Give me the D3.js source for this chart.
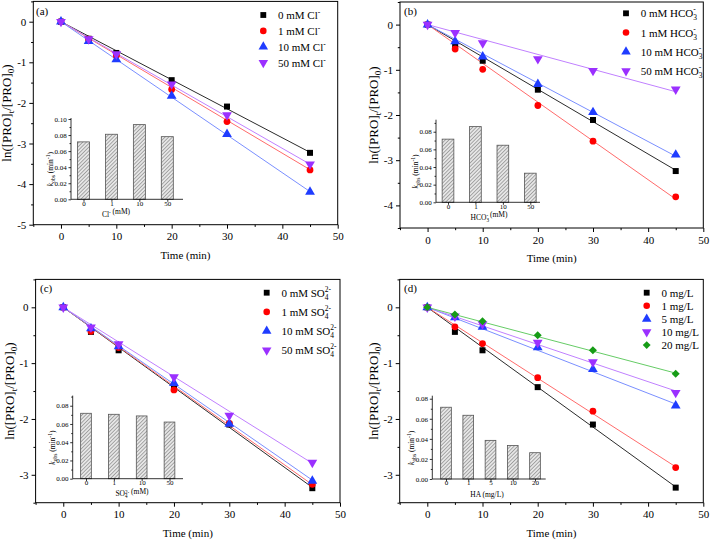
<!DOCTYPE html>
<html><head><meta charset="utf-8">
<script src="https://cdn.jsdelivr.net/npm/d3@7"></script>
<style>
body{margin:0;background:#fff}
svg{display:block}
text{font-family:"Liberation Serif","Times New Roman",serif;fill:#000}
</style>
</head><body>
<svg id="c" width="710" height="541"></svg>
<script>
// ---------------- DATA ----------------
const times = [0, 5, 10, 20, 30, 45];
const xTicks = [0, 10, 20, 30, 40, 50];

// (a) chloride
const clConc = ["0", "1", "10", "50"];
const cl_0  = [0, -0.42, -0.77, -1.44, -2.09, -3.23];
const cl_1  = [0, -0.43, -0.84, -1.67, -2.46, -3.65];
const cl_10 = [0, -0.48, -0.93, -1.83, -2.77, -4.19];
const cl_50 = [0, -0.43, -0.80, -1.54, -2.30, -3.51];
const clK   = [0.0715, 0.081, 0.093, 0.078];

// (b) bicarbonate
const hcoConc = ["0", "1", "10", "50"];
const hco_0  = [0, -0.46, -0.80, -1.44, -2.11, -3.24];
const hco_1  = [0, -0.54, -0.99, -1.79, -2.58, -3.81];
const hco_10 = [0, -0.37, -0.71, -1.32, -1.94, -2.88];
const hco_50 = [0, -0.18, -0.41, -0.76, -1.02, -1.43];
const hcoK   = [0.0716, 0.0858, 0.0647, 0.0330];

// (c) sulfate
const so4Conc = ["0", "1", "10", "50"];
const so4_0  = [0, -0.44, -0.77, -1.42, -2.10, -3.24];
const so4_1  = [0, -0.43, -0.72, -1.48, -2.08, -3.17];
const so4_10 = [0, -0.38, -0.70, -1.36, -2.09, -3.11];
const so4_50 = [0, -0.36, -0.66, -1.25, -1.94, -2.78];
const so4K   = [0.0717, 0.0706, 0.0688, 0.0621];

// (d) humic acid
const haConc = ["0", "1", "5", "10", "20"];
const ha_0  = [0, -0.44, -0.77, -1.43, -2.10, -3.23];
const ha_1  = [0, -0.35, -0.65, -1.26, -1.86, -2.87];
const ha_5  = [0, -0.18, -0.35, -0.72, -1.11, -1.76];
const ha_10 = [0, -0.16, -0.30, -0.63, -0.98, -1.53];
const ha_20 = [0, -0.13, -0.25, -0.50, -0.77, -1.19];
const haK   = [0.0715, 0.0635, 0.0385, 0.0333, 0.0262];

// ---------------- STYLE / LAYOUT ----------------
const markerColors = ["#000000", "#ff0000", "#1f3cff", "#9b30ff", "#169c16"];
const lineColors   = ["#2b2b2b", "#ff6b6b", "#7a8fff", "#c080ff", "#66cc66"];
const FONT_TICK = 11, FONT_LEG = 11, FONT_YLAB = 13, FONT_IN = 7, FONT_INLAB = 7.5;

const panels = [
  {tag: "(a)", series: [cl_0, cl_1, cl_10, cl_50], k: clK, conc: clConc, ion: "Cl", inXlab: "Cl",
   box: [33.3, 337.7, 1.4, 224.7], yDom: [-5, 0.5], leg: [263.3, 15, 15.9], tagPos: [36, 15],
   inset: {x: [71, 183], c: [83.5, 167.3], bw: 12, y: [199.3, 119], ymax: 0.10, xlab: 116}},
  {tag: "(b)", series: [hco_0, hco_1, hco_10, hco_50], k: hcoK, conc: hcoConc, ion: "HCO3", inXlab: "HCO3",
   box: [400, 703.3, 2, 228], yDom: [-4.5, 0.5], leg: [626, 13.3, 19.2], tagPos: [404, 15],
   inset: {x: [436, 540], c: [448, 530.3], bw: 11.7, y: [202.3, 120.7], ymax: 0.0925, xlab: 489}},
  {tag: "(c)", series: [so4_0, so4_1, so4_10, so4_50], k: so4K, conc: so4Conc, ion: "SO4", inXlab: "SO4",
   box: [35.6, 340, 279.4, 502.7], yDom: [-3.5, 0.5], leg: [266.7, 292.7, 19.2], tagPos: [40, 292],
   inset: {x: [72.7, 183], c: [86, 169.5], bw: 10.7, y: [478.7, 396.6], ymax: 0.09, xlab: 132}},
  {tag: "(d)", series: [ha_0, ha_1, ha_5, ha_10, ha_20], k: haK, conc: haConc, ion: "HA", inXlab: "HA",
   box: [399.7, 703.3, 279.4, 502.7], yDom: [-3.5, 0.5], leg: [646.7, 292.7, 13.1], tagPos: [404, 292],
   inset: {x: [432.3, 545.7], c: [446, 535], bw: 10.7, y: [479, 396.7], ymax: 0.082, xlab: 487}}
];

const svg = d3.select("#c");
const defs = svg.append("defs");
const pat = defs.append("pattern").attr("id", "hatch").attr("patternUnits", "userSpaceOnUse")
  .attr("width", 2.6).attr("height", 2.6).attr("patternTransform", "rotate(45)");
pat.append("rect").attr("width", 2.6).attr("height", 2.6).attr("fill", "#e6e6e6");
pat.append("line").attr("x1", 0).attr("y1", 0).attr("x2", 0).attr("y2", 2.6)
  .attr("stroke", "#666").attr("stroke-width", 1);

function symbolPath(i, size) {
  const types = [d3.symbolSquare, d3.symbolCircle, d3.symbolTriangle, d3.symbolTriangle, d3.symbolSquare];
  const sizes = [size, size, size * 1.15, size * 1.15, size * 0.9];
  return d3.symbol().type(types[i]).size(sizes[i])();
}
function symbolRot(i) { return i === 3 ? 180 : (i === 4 ? 45 : 0); }

// append ion text (with sub/superscripts) to a text selection
function appendIon(t, ion, fs, raise) {
  const s = fs * 0.68;
  const r = raise || 0.72;
  if (ion === "Cl") {
    t.append("tspan").text("Cl");
    t.append("tspan").attr("dy", -fs * 0.38).style("font-size", s + "px").text("-");
    t.append("tspan").attr("dy", fs * 0.38).text("");
  } else if (ion === "HCO3") {
    t.append("tspan").text("HCO");
    t.append("tspan").attr("dy", fs * 0.28).style("font-size", s + "px").text("3");
    t.append("tspan").attr("dx", -s * 0.5).attr("dy", -fs * r).style("font-size", s + "px").text("-");
    t.append("tspan").attr("dy", fs * (r - 0.28)).text("");
  } else if (ion === "SO4") {
    t.append("tspan").text("SO");
    t.append("tspan").attr("dy", fs * 0.28).style("font-size", s + "px").text("4");
    t.append("tspan").attr("dx", -s * 0.5).attr("dy", -fs * r).style("font-size", s + "px").text("2-");
    t.append("tspan").attr("dy", fs * (r - 0.28)).text("");
  }
}

panels.forEach(p => {
  const [bx0, bx1, by0, by1] = p.box;
  const g = svg.append("g");
  const x = d3.scaleLinear().domain([-5, 50]).range([bx0, bx1]);
  const y = d3.scaleLinear().domain(p.yDom).range([by1, by0]);

  // axes
  const yMaj = d3.range(Math.ceil(p.yDom[0]), 0.001, 1);
  const yMin = d3.range(Math.ceil(p.yDom[0] * 2) / 2, p.yDom[1] + 0.001, 0.5).filter(v => !Number.isInteger(v));
  const xMin = [-5, 5, 15, 25, 35, 45];

  const gx = g.append("g").attr("transform", `translate(0,${by1})`)
    .call(d3.axisBottom(x).tickValues(xTicks).tickSize(4).tickPadding(4).tickFormat(d => String(d)));
  gx.selectAll("text").style("font-size", FONT_TICK + "px");
  g.append("g").attr("transform", `translate(0,${by1})`)
    .call(d3.axisBottom(x).tickValues(xMin).tickSize(2.2).tickFormat(""));
  const gy = g.append("g").attr("transform", `translate(${bx0},0)`)
    .call(d3.axisLeft(y).tickValues(yMaj).tickSize(4).tickPadding(3).tickFormat(d => String(d)));
  gy.selectAll("text").style("font-size", FONT_TICK + "px");
  g.append("g").attr("transform", `translate(${bx0},0)`)
    .call(d3.axisLeft(y).tickValues(yMin).tickSize(2.2).tickFormat(""));
  g.selectAll(".domain").remove();
  g.selectAll(".tick line").attr("stroke", "#000");

  g.append("rect").attr("x", bx0).attr("y", by0).attr("width", bx1 - bx0).attr("height", by1 - by0)
    .attr("fill", "none").attr("stroke", "#000").attr("stroke-width", 1);

  // axis titles
  g.append("text").attr("x", (bx0 + bx1) / 2).attr("y", by1 + 34).attr("text-anchor", "middle")
    .style("font-size", "11px").text("Time (min)");
  const yl = g.append("text").attr("text-anchor", "middle")
    .attr("transform", `translate(${bx0 - 22},${(by0 + by1) / 2}) rotate(-90)`)
    .style("font-size", FONT_YLAB + "px");
  yl.append("tspan").text("ln([PRO]");
  yl.append("tspan").attr("dy", 3).style("font-size", "9px").text("t");
  yl.append("tspan").attr("dy", -3).text("/[PRO]");
  yl.append("tspan").attr("dy", 3).style("font-size", "9px").text("0");
  yl.append("tspan").attr("dy", -3).text(")");

  g.append("text").attr("x", p.tagPos[0]).attr("y", p.tagPos[1]).style("font-size", "11px").text(p.tag);

  // fit lines
  const line = d3.line().x(d => x(d[0])).y(d => y(d[1]));
  p.series.forEach((s, i) => {
    const tEnd = times[times.length - 1];
    g.append("path").datum([[0, 0], [tEnd, -p.k[i] * tEnd]]).attr("d", line)
      .attr("fill", "none").attr("stroke", lineColors[i]).attr("stroke-width", 1);
  });
  // markers
  p.series.forEach((s, i) => {
    g.append("g").selectAll("path").data(s).join("path")
      .attr("d", symbolPath(i, 36))
      .attr("transform", (d, j) => `translate(${x(times[j])},${y(d)}) rotate(${symbolRot(i)})`)
      .attr("fill", markerColors[i]);
  });

  // legend
  const [lx, ly, ldy] = p.leg;
  p.conc.forEach((c, i) => {
    const yy = ly + i * ldy;
    g.append("path").attr("d", symbolPath(i, 34))
      .attr("transform", `translate(${lx},${yy}) rotate(${symbolRot(i)})`).attr("fill", markerColors[i]);
    const t = g.append("text").attr("x", lx + 14.7).attr("y", yy + 4).style("font-size", FONT_LEG + "px");
    if (p.ion === "HA") t.append("tspan").text(c + " mg/L");
    else { t.append("tspan").text(c + " mM "); appendIon(t, p.ion, FONT_LEG); }
  });

  // inset bar chart
  const ins = p.inset;
  const ig = g.append("g");
  const xi = d3.scalePoint().domain(p.conc).range(ins.c);
  const yi = d3.scaleLinear().domain([0, ins.ymax]).range(ins.y);
  ig.selectAll("rect").data(p.k).join("rect")
    .attr("x", (d, i) => xi(p.conc[i]) - ins.bw / 2).attr("width", ins.bw)
    .attr("y", d => yi(d)).attr("height", d => yi(0) - yi(d))
    .attr("fill", "url(#hatch)").attr("stroke", "#555").attr("stroke-width", 0.8);

  const iyMaj = d3.range(0, ins.ymax + 1e-9, 0.02);
  const iyMin = d3.range(0.01, ins.ymax + 1e-9, 0.02);
  const iax = ig.append("g").attr("transform", `translate(${ins.x[0]},0)`)
    .call(d3.axisLeft(yi).tickValues(iyMaj).tickSize(2.5).tickPadding(1.8).tickFormat(d3.format(".2f")));
  iax.selectAll("text").style("font-size", FONT_IN + "px");
  ig.append("g").attr("transform", `translate(${ins.x[0]},0)`)
    .call(d3.axisLeft(yi).tickValues(iyMin).tickSize(1.5).tickFormat(""));
  const ibx = ig.append("g").attr("transform", `translate(0,${ins.y[0]})`)
    .call(d3.axisBottom(xi).tickSize(2.5).tickPadding(0));
  ibx.selectAll("text").style("font-size", FONT_IN + "px").attr("dy", "0.55em");
  ig.selectAll(".domain").remove();
  ig.selectAll(".tick line").attr("stroke", "#000").attr("stroke-width", 0.8);
  ig.append("line").attr("x1", ins.x[0]).attr("x2", ins.x[0]).attr("y1", ins.y[0]).attr("y2", ins.y[1] - 1)
    .attr("stroke", "#000").attr("stroke-width", 0.8);
  ig.append("line").attr("x1", ins.x[0]).attr("x2", ins.x[1]).attr("y1", ins.y[0]).attr("y2", ins.y[0])
    .attr("stroke", "#000").attr("stroke-width", 0.8);

  // inset labels
  const ixl = ig.append("text").attr("x", ins.xlab).attr("y", ins.y[0] + 17.5)
    .attr("text-anchor", "middle").style("font-size", FONT_INLAB + "px");
  if (p.inXlab === "HA") ixl.append("tspan").text("HA (mg/L)");
  else { appendIon(ixl, p.inXlab, FONT_INLAB, 0.6); ixl.append("tspan").text(" (mM)"); }

  const iyl = ig.append("text").attr("text-anchor", "middle")
    .attr("transform", `translate(${ins.x[0] - 18},${(ins.y[0] + ins.y[1]) / 2 + 10}) rotate(-90)`)
    .style("font-size", FONT_INLAB + "px");
  iyl.append("tspan").style("font-style", "italic").text("k");
  iyl.append("tspan").attr("dy", 2).style("font-size", "5.5px").text("obs");
  iyl.append("tspan").attr("dy", -2).text(" (min");
  iyl.append("tspan").attr("dy", -3).style("font-size", "5.5px").text("-1");
  iyl.append("tspan").attr("dy", 3).text(")");
});
</script>
</body></html>
